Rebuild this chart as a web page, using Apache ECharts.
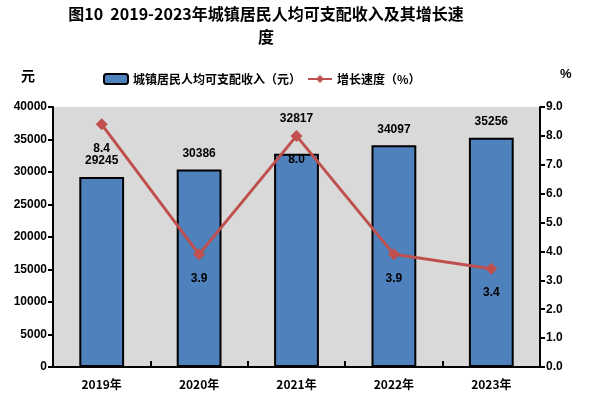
<!DOCTYPE html>
<html>
<head>
<meta charset="utf-8">
<script src="https://cdn.jsdelivr.net/npm/echarts@6/dist/echarts.min.js"></script>
<style>
html, body { margin: 0; padding: 0; background: #fff; }
#chart { width: 590px; height: 406px; }
</style>
</head>
<body>
<div id="chart"></div>
<script>
var years = ['2019年', '2020年', '2021年', '2022年', '2023年'];
var income = [29245, 30386, 32817, 34097, 35256]; //城镇居民人均可支配收入（元）
var growth = [8.4, 3.9, 8.0, 3.9, 3.4]; //增长速度（%）
var incomeTicks = [0, 40000, 5000];
var growthTicks = [0, 9, 1];

var font = "'Liberation Sans', 'Noto Sans CJK SC', sans-serif";
var cjk = "'Noto Sans CJK SC', 'Liberation Sans', sans-serif";

var myChart = echarts.init(document.getElementById('chart'));

var barData = income.map(function(v, i) {
	var item = { value: v };
	if (i == 2) {
		item.label = { offset: [0, -19] }; //避开折线标签
	}
	return item;
});

var option = {
	backgroundColor: '#fff',
	animation: false,
	title: {
		text: '图10  2019-2023年城镇居民人均可支配收入及其增长速\n度',
		left: 261,
		top: -3,
		textAlign: 'center',
		textStyle: {
			fontFamily: cjk,
			fontSize: 16,
			fontWeight: 'bold',
			color: '#000',
			lineHeight: 23
		}
	},
	legend: {
		left: 98,
		top: 68,
		itemWidth: 24,
		itemHeight: 10,
		itemGap: 6,
		textStyle: {
			fontFamily: cjk,
			fontSize: 12,
			fontWeight: 'bold',
			color: '#000'
		},
		data: ['城镇居民人均可支配收入（元）', '增长速度（%）']
	},
	graphic: [
		{ type: 'text', left: 21, top: 69, style: { text: '元', font: 'bold 14px ' + cjk, fill: '#000' } },
		{ type: 'text', left: 560, top: 68, style: { text: '%', font: 'bold 13px ' + font, fill: '#000' } }
	],
	grid: {
		left: 53,
		right: 50,
		top: 107,
		bottom: 39,
		show: true,
		backgroundColor: '#d9d9d9',
		borderWidth: 0
	},
	xAxis: {
		type: 'category',
		data: years,
		axisLine: { lineStyle: { color: '#000', width: 2 } },
		axisTick: { show: true, inside: true, length: 6, lineStyle: { color: '#000', width: 2 } },
		axisLabel: { fontFamily: cjk, fontSize: 12, fontWeight: 'bold', color: '#000', margin: 11 }
	},
	yAxis: [
		{
			type: 'value',
			min: incomeTicks[0],
			max: incomeTicks[1],
			interval: incomeTicks[2],
			splitLine: { show: false },
			axisLine: { show: true, lineStyle: { color: '#000', width: 2 } },
			axisTick: { show: true, length: 5, lineStyle: { color: '#000', width: 2 } },
			axisLabel: {
				fontFamily: font, fontSize: 12, fontWeight: 'bold', color: '#000', margin: 6,
				formatter: function(v) { return String(v); }
			}
		},
		{
			type: 'value',
			min: growthTicks[0],
			max: growthTicks[1],
			interval: growthTicks[2],
			splitLine: { show: false },
			axisLine: { show: true, lineStyle: { color: '#000', width: 2 } },
			axisTick: { show: true, length: 5, lineStyle: { color: '#000', width: 2 } },
			axisLabel: {
				fontFamily: font, fontSize: 12, fontWeight: 'bold', color: '#000', margin: 6,
				formatter: function(v) { return v.toFixed(1); }
			}
		}
	],
	series: [
		{
			name: '城镇居民人均可支配收入（元）',
			type: 'bar',
			data: barData,
			barWidth: '46%',
			itemStyle: { color: '#4f81bd', borderColor: '#000', borderWidth: 2 },
			label: {
				show: true,
				position: 'top',
				distance: 10,
				fontFamily: font,
				fontSize: 12,
				fontWeight: 'bold',
				color: '#000'
			}
		},
		{
			name: '增长速度（%）',
			type: 'line',
			yAxisIndex: 1,
			data: growth,
			symbol: 'diamond',
			symbolSize: 12,
			lineStyle: { color: '#c0504d', width: 3 },
			itemStyle: { color: '#c0504d' },
			label: {
				show: true,
				position: 'bottom',
				distance: 12,
				fontFamily: font,
				fontSize: 12,
				fontWeight: 'bold',
				color: '#000',
				formatter: function(p) { return p.value.toFixed(1); }
			}
		}
	]
};
myChart.setOption(option);
</script>
</body>
</html>
